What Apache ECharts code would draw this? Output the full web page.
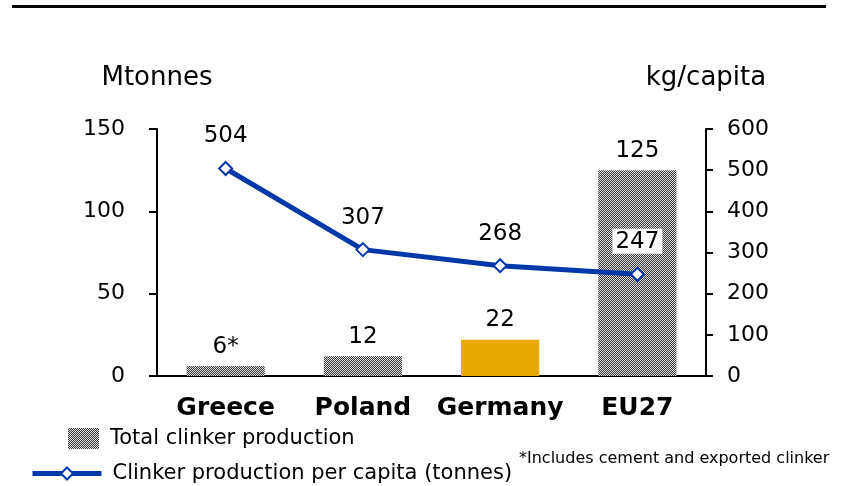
<!DOCTYPE html>
<html>
<head>
<meta charset="utf-8">
<script src="https://cdn.jsdelivr.net/npm/echarts@6/dist/echarts.min.js"></script>
<style>
  html, body { margin: 0; padding: 0; background: #fff; }
  #chart { width: 842px; height: 486px; }
</style>
</head>
<body>
<div id="chart"></div>
<script>
// data
const countries = ["Greece", "Poland", "Germany", "EU27"];
const totalClinker = [6, 12, 22, 125];          // Mtonnes
const totalLabels = ["6*", "12", "22", "125"];
const perCapita = [504, 307, 268, 247];         // kg/capita
const leftTicks = [0, 50, 100, 150];
const rightTicks = [0, 100, 200, 300, 400, 500, 600];

const font = "DejaVu Sans";
const blue = "#0038A8";

// checkered fill like the original bars
const makePattern = () => {
  const c = document.createElement("canvas");
  c.width = 2;
  c.height = 2;
  const ctx = c.getContext("2d");
  ctx.fillStyle = "#3a3a3a";
  ctx.fillRect(0, 0, 2, 2);
  ctx.fillStyle = "#dcdcdc";
  ctx.fillRect(0, 0, 1, 1);
  ctx.fillRect(1, 1, 1, 1);
  return c;
};
const pattern = { image: makePattern(), repeat: "repeat" };

const barData = totalClinker.map((v, i) => ({
  value: v,
  itemStyle: { color: countries[i] === "Germany" ? "#E9A900" : pattern },
}));

const lineData = perCapita.map((v, i) => ({
  value: v,
  label: i === 3 ? { backgroundColor: "#fff", padding: [2, 3, 0, 3] } : {},
}));

const myChart = echarts.init(document.getElementById("chart"));
const option = {
  animation: false,
  textStyle: { fontFamily: font, color: "#000" },
  grid: { left: 157, right: 136, top: 129, bottom: 110 },
  legend: [
    {
      data: [{ name: "Total clinker production", icon: "rect" }],
      left: 68,
      top: 428,
      padding: 0,
      itemWidth: 31,
      itemHeight: 21,
      textStyle: { fontFamily: font, fontSize: 21, color: "#000", padding: [0, 0, 0, 6] },
    },
    {
      data: ["Clinker production per capita (tonnes)"],
      left: 30,
      top: 463,
      padding: 0,
      itemWidth: 69,
      itemHeight: 15,
      lineStyle: { width: 5 },
      textStyle: { fontFamily: font, fontSize: 21, color: "#000", padding: [0, 0, 0, 6] },
    },
  ],
  xAxis: {
    type: "category",
    data: countries,
    axisLine: { lineStyle: { color: "#000", width: 2 } },
    axisTick: { show: false },
    axisLabel: {
      interval: 0,
      margin: 20,
      fontFamily: font,
      fontSize: 25,
      fontWeight: "bold",
      color: "#000",
    },
  },
  yAxis: [
    {
      type: "value",
      min: leftTicks[0],
      max: leftTicks[leftTicks.length - 1],
      interval: 50,
      name: "Mtonnes",
      nameGap: 38,
      nameTextStyle: { fontFamily: font, fontSize: 26, color: "#000" },
      axisLine: { show: true, lineStyle: { color: "#000", width: 2 } },
      axisTick: { show: true, length: 8, lineStyle: { color: "#000", width: 2 } },
      axisLabel: { margin: 32, fontFamily: font, fontSize: 22, color: "#000" },
      splitLine: { show: false },
    },
    {
      type: "value",
      min: rightTicks[0],
      max: rightTicks[rightTicks.length - 1],
      interval: 100,
      name: "kg/capita",
      nameGap: 38,
      nameTextStyle: { fontFamily: font, fontSize: 26, color: "#000" },
      axisLine: { show: true, lineStyle: { color: "#000", width: 2 } },
      axisTick: { show: true, length: 7, lineStyle: { color: "#000", width: 2 } },
      axisLabel: { margin: 21, fontFamily: font, fontSize: 22, color: "#000" },
      splitLine: { show: false },
    },
  ],
  series: [
    {
      name: "Total clinker production",
      type: "bar",
      yAxisIndex: 0,
      barWidth: "57%",
      itemStyle: { color: pattern },
      label: {
        show: true,
        position: "top",
        distance: 8,
        fontFamily: font,
        fontSize: 23,
        color: "#000",
        formatter: (p) => totalLabels[p.dataIndex],
      },
      data: barData,
    },
    {
      name: "Clinker production per capita (tonnes)",
      type: "line",
      yAxisIndex: 1,
      symbol: "diamond",
      symbolSize: 13,
      lineStyle: { color: blue, width: 5 },
      itemStyle: { color: "#fff", borderColor: blue, borderWidth: 2 },
      label: {
        show: true,
        position: "top",
        distance: 13,
        fontFamily: font,
        fontSize: 23,
        color: "#000",
      },
      z: 5,
      data: lineData,
    },
  ],
  graphic: [
    {
      type: "rect",
      shape: { x: 12, y: 5, width: 814, height: 3 },
      style: { fill: "#000" },
    },
    {
      type: "text",
      left: 519,
      top: 451,
      style: {
        text: "*Includes cement and exported clinker",
        font: "16px " + font,
        fill: "#000",
      },
    },
  ],
};
myChart.setOption(option);
</script>
</body>
</html>
